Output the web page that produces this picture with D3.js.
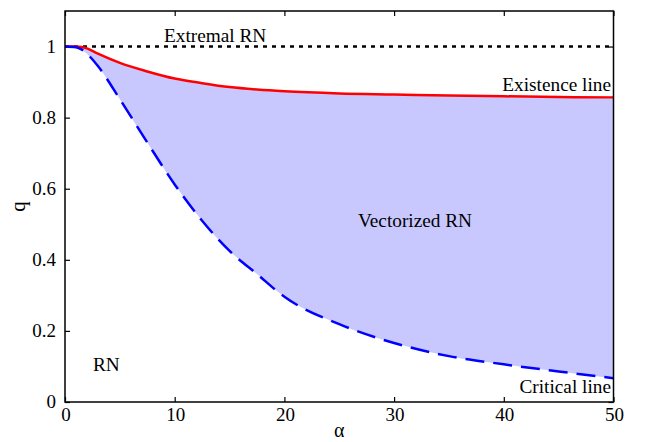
<!DOCTYPE html>
<html>
<head>
<meta charset="utf-8">
<script src="https://cdn.jsdelivr.net/npm/d3@7"></script>
<style>
  body { margin: 0; background: #fff; }
</style>
</head>
<body>
<div id="chart"></div>
<script>
// data
const alpha = [0, 1, 1.5, 2, 3, 5, 7.5, 10, 12.5, 15, 17.5, 20, 25, 30, 35, 40, 45, 50];
const existence = [1.0, 1.0, 0.999, 0.995, 0.98, 0.954, 0.93, 0.91, 0.897, 0.886, 0.879, 0.874, 0.868, 0.865, 0.862, 0.86, 0.858, 0.857];
const critical = [1.0, 0.998, 0.992, 0.98, 0.945, 0.852, 0.73, 0.612, 0.51, 0.425, 0.36, 0.296, 0.219, 0.166, 0.129, 0.106, 0.086, 0.067];
const extremalAlpha = [0, 50];
const extremalQ = [1, 1];

const xTicks = [0, 10, 20, 30, 40, 50];
const yTicks = [0, 0.2, 0.4, 0.6, 0.8, 1];

const width = 647, height = 442;
const plotL = 65, plotR = 613.5, plotT = 11, plotB = 402;
const serif = "'Liberation Serif', 'Times New Roman', Times, 'DejaVu Serif', serif";

const svg = d3.select("#chart").append("svg")
    .attr("width", width)
    .attr("height", height)
    .attr("font-family", serif);

const x = d3.scaleLinear().domain([0, 50]).range([plotL, plotR]);
const y = d3.scaleLinear().domain([0, 1.1]).range([plotB, plotT]);

// ticks on all four sides, pointing in
const tickLen = 5;
svg.append("g").attr("transform", `translate(0,${plotB})`)
    .call(d3.axisTop(x).tickValues(xTicks).tickSize(tickLen).tickFormat(""));
svg.append("g").attr("transform", `translate(0,${plotT})`)
    .call(d3.axisBottom(x).tickValues(xTicks).tickSize(tickLen).tickFormat(""));
svg.append("g").attr("transform", `translate(${plotL},0)`)
    .call(d3.axisRight(y).tickValues(yTicks).tickSize(tickLen).tickFormat(""));
svg.append("g").attr("transform", `translate(${plotR},0)`)
    .call(d3.axisLeft(y).tickValues(yTicks).tickSize(tickLen).tickFormat(""));
svg.selectAll(".domain").remove();
svg.selectAll(".tick line").attr("stroke", "#000").attr("stroke-width", 1.2);

const pts = alpha.map((a, i) => ({ a: a, hi: existence[i], lo: critical[i] }));

// shaded region between the two lines
svg.append("path")
    .datum(pts)
    .attr("fill", "#c8c8ff")
    .attr("d", d3.area()
        .x(d => x(d.a))
        .y0(d => y(d.lo))
        .y1(d => y(d.hi))
        .curve(d3.curveMonotoneX));

// extremal line
svg.append("path")
    .datum(extremalAlpha.map((a, i) => [a, extremalQ[i]]))
    .attr("fill", "none")
    .attr("stroke", "#000")
    .attr("stroke-width", 2.5)
    .attr("stroke-dasharray", "4,5")
    .attr("d", d3.line().x(d => x(d[0])).y(d => y(d[1])));

// existence line
svg.append("path")
    .datum(pts)
    .attr("fill", "none")
    .attr("stroke", "#ff0000")
    .attr("stroke-width", 2.5)
    .attr("d", d3.line().x(d => x(d.a)).y(d => y(d.hi)).curve(d3.curveMonotoneX));

// critical line
svg.append("path")
    .datum(pts)
    .attr("fill", "none")
    .attr("stroke", "#0000ff")
    .attr("stroke-width", 2.5)
    .attr("stroke-dasharray", "19,9")
    .attr("d", d3.line().x(d => x(d.a)).y(d => y(d.lo)).curve(d3.curveMonotoneX));

// frame
svg.append("rect")
    .attr("x", plotL).attr("y", plotT)
    .attr("width", plotR - plotL).attr("height", plotB - plotT)
    .attr("fill", "none")
    .attr("stroke", "#000")
    .attr("stroke-width", 1.5);

// tick labels
svg.selectAll(".xlab").data(xTicks).enter().append("text")
    .attr("x", d => x(d) + 1)
    .attr("y", plotB + 19)
    .attr("text-anchor", "middle")
    .attr("font-size", 19)
    .text(d => d);

svg.selectAll(".ylab").data(yTicks).enter().append("text")
    .attr("x", plotL - 9)
    .attr("y", d => y(d) + 6)
    .attr("text-anchor", "end")
    .attr("font-size", 19)
    .text(d => d);

// axis titles
svg.append("text")
    .attr("x", (plotL + plotR) / 2)
    .attr("y", 437)
    .attr("text-anchor", "middle")
    .attr("font-size", 20)
    .text("α");

svg.append("text")
    .attr("transform", `translate(25,${(plotT + plotB) / 2}) rotate(-90)`)
    .attr("text-anchor", "middle")
    .attr("font-size", 21)
    .text("q");

// annotations
const notes = [
    { t: "Extremal RN", x: 164, y: 42, anchor: "start" },
    { t: "Existence line", x: 611, y: 91, anchor: "end" },
    { t: "Vectorized RN", x: 358, y: 227, anchor: "start" },
    { t: "RN", x: 93, y: 371, anchor: "start" },
    { t: "Critical line", x: 611, y: 393, anchor: "end" }
];
svg.selectAll(".note").data(notes).enter().append("text")
    .attr("x", d => d.x)
    .attr("y", d => d.y)
    .attr("text-anchor", d => d.anchor)
    .attr("font-size", 19.3)
    .text(d => d.t);
</script>
</body>
</html>
